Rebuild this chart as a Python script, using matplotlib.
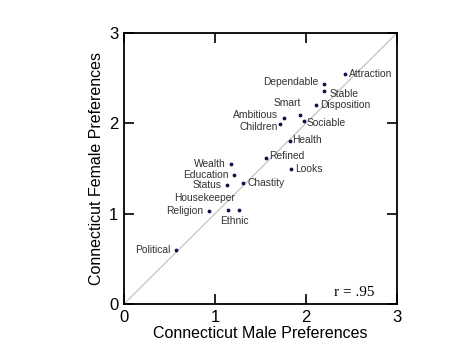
import matplotlib
matplotlib.use("Agg")
import matplotlib.pyplot as plt

plt.rcParams['font.family'] = ['Liberation Sans', 'DejaVu Sans']

labels = ["Attraction", "Dependable", "Stable", "Disposition", "Smart", "Sociable",
          "Ambitious", "Children", "Health", "Refined", "Looks", "Wealth",
          "Education", "Status", "Chastity", "Housekeeper", "Religion", "Ethnic",
          "Political"]
male = [2.43, 2.20, 2.20, 2.11, 1.93, 1.98, 1.76, 1.71, 1.82, 1.56, 1.83, 1.18,
        1.21, 1.13, 1.31, 1.14, 0.93, 1.26, 0.57]
female = [2.55, 2.43, 2.36, 2.20, 2.09, 2.03, 2.06, 1.99, 1.80, 1.62, 1.49, 1.55,
          1.43, 1.32, 1.34, 1.04, 1.03, 1.04, 0.60]
# label placement: (dx, dy in points, ha, va)
place = {
    "Attraction": (3, 0, "left", "center"),
    "Dependable": (-4, 2, "right", "center"),
    "Stable": (4, -2, "left", "center"),
    "Disposition": (3, 0, "left", "center"),
    "Smart": (1, 5, "right", "bottom"),
    "Sociable": (2, -2, "left", "center"),
    "Ambitious": (-4, 2, "right", "center"),
    "Children": (-1, -2, "right", "center"),
    "Health": (2, 1, "left", "center"),
    "Refined": (2, 1, "left", "center"),
    "Looks": (3, 0, "left", "center"),
    "Wealth": (-4, 0, "right", "center"),
    "Education": (-4, 0, "right", "center"),
    "Status": (-4, 0, "right", "center"),
    "Chastity": (3, 0, "left", "center"),
    "Housekeeper": (5, 5, "right", "bottom"),
    "Religion": (-4, 0, "right", "center"),
    "Ethnic": (-3, -4, "center", "top"),
    "Political": (-4, 0, "right", "center"),
}

fig = plt.figure(figsize=(4.74, 3.55), dpi=100)
ax = fig.add_axes([124/474, 1-304/355, 273/474, 271/355])
ax.plot([0, 3], [0, 3], color="#c8c8c8", lw=1, zorder=1)
ax.scatter(male, female, s=3, color="#10104a", zorder=2)
for lab, x, y in zip(labels, male, female):
    dx, dy, ha, va = place[lab]
    ax.annotate(lab, (x, y), xytext=(dx, dy), textcoords="offset points",
                ha=ha, va=va, fontsize=7.4, color="#333333")
ax.text(2.53, 0.13, "r = .95", family="Liberation Serif", fontsize=11,
        ha="center", va="center")
ax.set_xlim(0, 3)
ax.set_ylim(0, 3)
ax.set_xticks([0, 1, 2, 3])
ax.set_yticks([0, 1, 2, 3])
ax.tick_params(direction="in", length=7, width=1.2, labelsize=12, top=True, right=True, pad=4)
for s in ax.spines.values():
    s.set_linewidth(1.3)
ax.set_xlabel("Connecticut Male Preferences", fontsize=11.5, labelpad=1)
ax.set_ylabel("Connecticut Female Preferences", fontsize=11.5, labelpad=4)
fig.savefig("out.png", dpi=100)
